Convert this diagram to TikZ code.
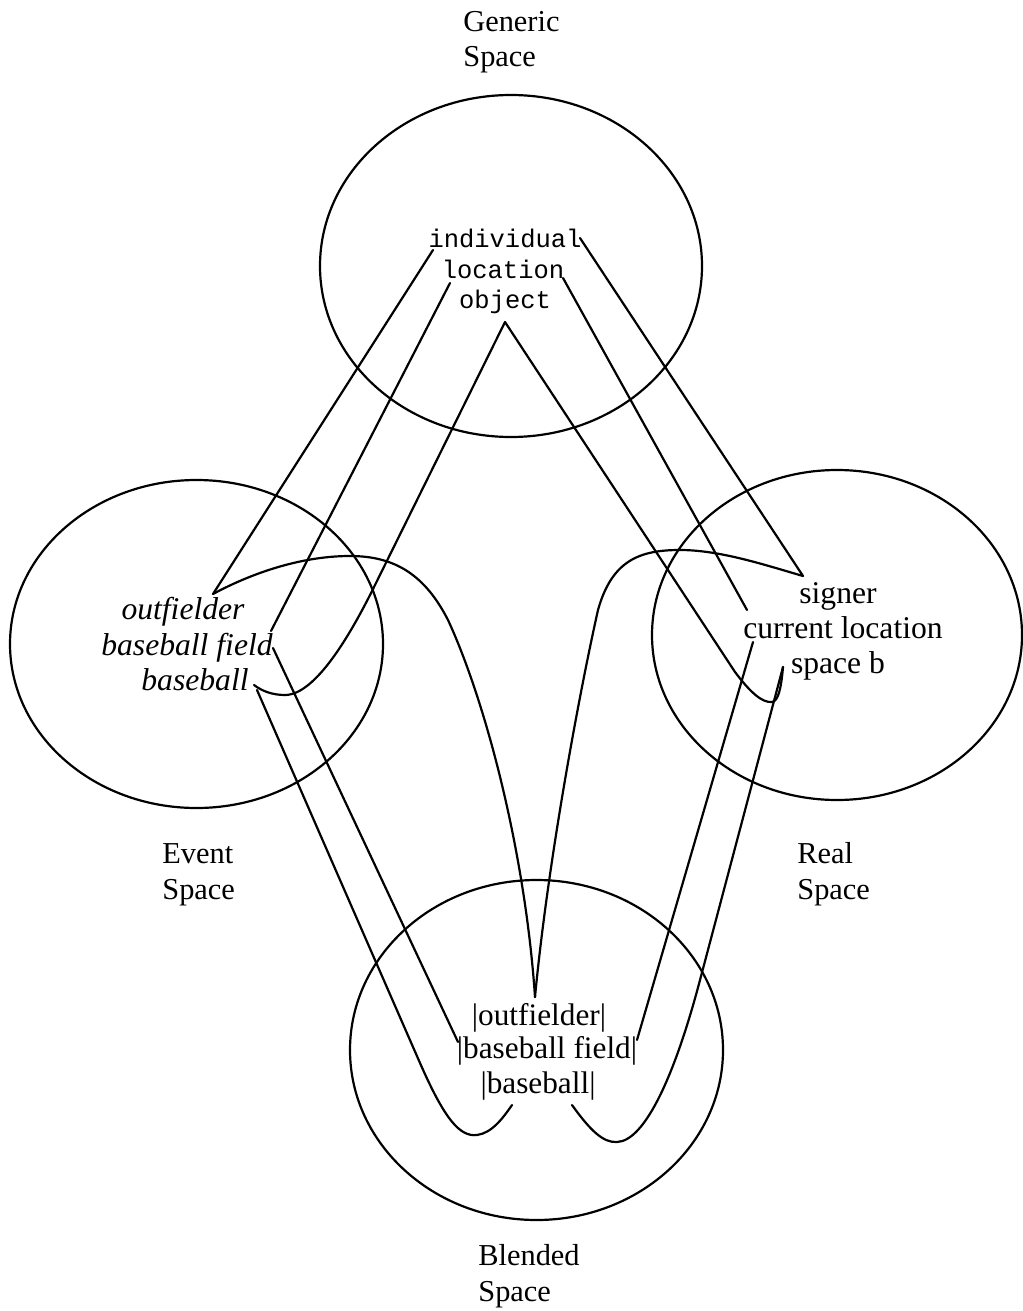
\documentclass[tikz,border=0pt]{standalone}
\usepackage{fontspec}
\setmainfont{Liberation Serif}
\setmonofont{Liberation Mono}
\begin{document}
\begin{tikzpicture}[x=0.02cm,y=-0.02cm,
  spaceoval/.style={line width=1.25pt},
  link/.style={line width=1.25pt, line join=round, line cap=round},
  title/.style={font=\fontsize{17.3}{20.4}\selectfont, align=left, anchor=base west, inner sep=0pt},
  gterm/.style={font=\ttfamily\fontsize{14.5}{17}\selectfont, anchor=base, inner sep=0pt},
  eterm/.style={font=\itshape\fontsize{18}{20}\selectfont, anchor=base, inner sep=0pt},
  rterm/.style={font=\fontsize{18}{20}\selectfont, anchor=base, inner sep=0pt},
  bterm/.style={font=\fontsize{17.8}{20}\selectfont, anchor=base, inner sep=0pt}]

\useasboundingbox (0,0) rectangle (1023,1311);

% the four mental spaces
\draw[spaceoval] (511,266) ellipse [x radius=191, y radius=171];
\draw[spaceoval] (196.5,644) ellipse [x radius=186.5, y radius=164];
\draw[spaceoval] (837,635) ellipse [x radius=185, y radius=165];
\draw[spaceoval] (536.5,1050) ellipse [x radius=186.5, y radius=170];

% space titles (base anchor sits on the last line)
\node[title] (tgen)   at (463,67)   {Generic\\Space};
\node[title] (tevent) at (162,899)  {Event\\Space};
\node[title] (treal)  at (797,899)  {Real\\Space};
\node[title] (tblend) at (478,1301) {Blended\\Space};

% generic space roles
\node[gterm] (gi) at (505,247) {individual};
\node[gterm] (gl) at (503,278) {location};
\node[gterm] (go) at (505,308) {object};

% event space elements
\node[eterm] (eo) at (183,619) {outfielder};
\node[eterm] (ef) at (187,655) {baseball field};
\node[eterm] (eb) at (195,690) {baseball};

% real space elements
\node[rterm] (rs) at (838,603) {signer};
\node[rterm] (rc) at (843,638) {current location};
\node[rterm] (rb) at (838,673) {space b};

% blended space elements
\node[bterm] (bo) at (539,1025) {|outfielder|};
\node[bterm] (bf) at (547,1058) {|baseball field|};
\node[bterm] (bb) at (538,1093) {|baseball|};

% attachment points
\coordinate (giL) at (433,250);
\coordinate (giR) at (580,238);
\coordinate (glL) at (450,283);
\coordinate (glR) at (563,278);
\coordinate (goB) at (505,322);
\coordinate (eoT) at (213,594);
\coordinate (efI) at (271,631);
\coordinate (efO) at (273,648);
\coordinate (ebH) at (254,685);
\coordinate (ebL) at (257,690);
\coordinate (rsT) at (803,576);
\coordinate (rcI) at (747,610);
\coordinate (rcO) at (753,642);
\coordinate (rbT) at (783,667);
\coordinate (boT) at (535,997);
\coordinate (bfL) at (458,1042);
\coordinate (bfR) at (637,1040);
\coordinate (bbL) at (512,1105);
\coordinate (bbR) at (572,1105);

% generic -> input spaces
\draw[link] (giL) -- (eoT);
\draw[link] (giR) -- (rsT);
\draw[link] (glL) -- (efI);
\draw[link] (glR) -- (rcI);
\draw[link] (goB) -- (375,585) .. controls (350,636) and (315,695) .. (285,695)
  .. controls (272,695) and (262,691) .. (ebH);
\draw[link] (goB) -- (735,672) .. controls (750,692) and (762,703) .. (772,702)
  .. controls (778,701) and (781,690) .. (rbT);

% input spaces -> blend
\draw[link] (efO) -- (bfL);
\draw[link] (rcO) -- (bfR);
\draw[link] (boT) .. controls (525,850) and (485,700) .. (448,620)
  .. controls (425,575) and (395,556) .. (350,556)
  .. controls (300,556) and (250,574) .. (eoT);
\draw[link] (boT) .. controls (548,860) and (580,690) .. (598,610)
  .. controls (612,560) and (640,550) .. (680,550)
  .. controls (720,550) and (765,565) .. (rsT);
\draw[link] (ebL) -- (420,1063) .. controls (445,1120) and (460,1137) .. (477,1135)
  .. controls (492,1133) and (503,1118) .. (bbL);
\draw[link] (bbR) .. controls (590,1130) and (603,1143) .. (617,1142)
  .. controls (645,1141) and (675,1075) .. (700,980) -- (rbT);
\end{tikzpicture}
\end{document}
